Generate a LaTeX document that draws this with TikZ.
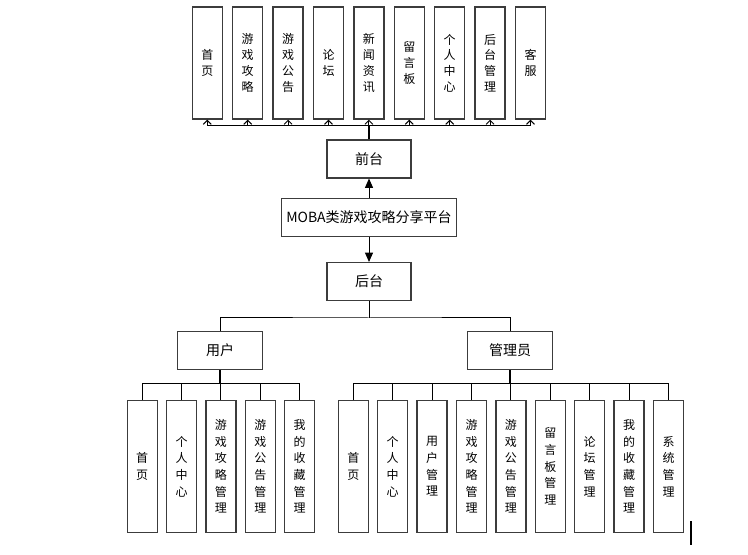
\documentclass[tikz,border=0pt]{standalone}
\usepackage{fontspec}
\setmainfont{Noto Sans CJK SC}
\usetikzlibrary{arrows.meta,positioning}
\definecolor{boxgray}{RGB}{60,60,60}

\tikzset{
  topbox/.style={draw=boxgray, line width=1pt, fill=white, inner sep=0pt,
    minimum width=22.5pt, minimum height=84pt, align=center,
    font=\fontsize{9}{11.8}\selectfont},
  leafbox/.style={topbox, minimum height=98.7pt,
    font=\fontsize{9}{12.5}\selectfont},
  midbox/.style={draw=boxgray, line width=1pt, fill=white, inner sep=0pt,
    minimum width=63pt, minimum height=28.3pt, font=\fontsize{10.5}{12}\selectfont},
  link/.style={line width=0.75pt},
  upbarb/.style={link, -{Straight Barb[length=3pt,width=6pt]}},
  solidtip/.style={link, -{Triangle[length=7pt,width=6pt]}}
}

\begin{document}
\begin{tikzpicture}[x=0.75pt, y=-0.75pt]
\useasboundingbox (0,0) rectangle (748,555);

% front end modules
\foreach \t [count=\i] in {{首\\页},{游\\戏\\攻\\略},{游\\戏\\公\\告},{论\\坛},{新\\闻\\资\\讯},{留\\言\\板},{个\\人\\中\\心},{后\\台\\管\\理},{客\\服}}
  \node[topbox] (f\i) at ({207.3+40.4*(\i-1)},63) {\t};

\node[midbox] (qiantai) at (369,159) {前台};
\node[midbox, minimum width=131pt] (platform) at (369,217.5) {MOBA类游戏攻略分享平台};
\node[midbox] (houtai) at (369,281.5) {后台};
\node[midbox, minimum width=63.75pt] (yonghu) at (220,350.5) {用户};
\node[midbox, minimum width=63.75pt] (guanli) at (510,350.5) {管理员};

% user modules
\foreach \t [count=\i] in {{首\\页},{个\\人\\中\\心},{游\\戏\\攻\\略\\管\\理},{游\\戏\\公\\告\\管\\理},{我\\的\\收\\藏\\管\\理}}
  \node[leafbox] (u\i) at ({142.2+39.35*(\i-1)},466.5) {\t};

% admin modules
\foreach \t [count=\i] in {{首\\页},{个\\人\\中\\心},{用\\户\\管\\理},{游\\戏\\攻\\略\\管\\理},{游\\戏\\公\\告\\管\\理},{留\\言\\板\\管\\理},{论\\坛\\管\\理},{我\\的\\收\\藏\\管\\理},{系\\统\\管\\理}}
  \node[leafbox] (a\i) at ({353.3+39.4*(\i-1)},466.5) {\t};

% top bus
\coordinate (topbus) at (369,126);
\draw[link] (f1.south |- topbus) -- (f9.south |- topbus);
\foreach \i in {1,...,9}
  \draw[upbarb] (f\i.south |- topbus) -- (f\i.south);
\draw[line width=1.5pt] (qiantai.north) -- (qiantai.north |- topbus);

% platform arrows
\draw[solidtip] (platform.north) -- (qiantai.south);
\draw[solidtip] (platform.south) -- (houtai.north);

% back end split
\coordinate (fork) at (369,318);
\draw[link] (houtai.south) -- (fork);
\draw[link] (yonghu.north) |- (fork) -| (guanli.north);

% user bus
\coordinate (ubus) at (220,383.3);
\draw[line width=1.2pt] (yonghu.south) -- (ubus);
\draw[link] (u1.north |- ubus) -- (u5.north |- ubus);
\foreach \i in {1,...,5}
  \draw[link] (u\i.north |- ubus) -- (u\i.north);

% admin bus
\coordinate (abus) at (510,383.3);
\draw[line width=1.2pt] (guanli.south) -- (abus);
\draw[link] (a1.north |- abus) -- (a9.north |- abus);
\foreach \i in {1,...,9}
  \draw[link] (a\i.north |- abus) -- (a\i.north);

\draw[line width=1.5pt] (691,521) -- (691,545);
\end{tikzpicture}
\end{document}
